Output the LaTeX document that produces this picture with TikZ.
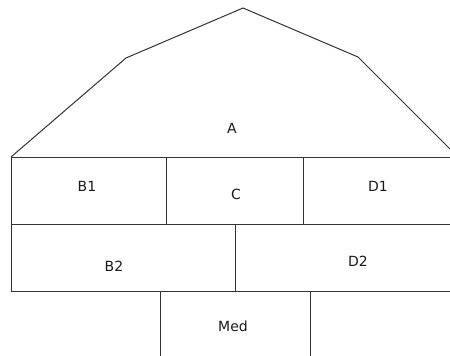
\documentclass[tikz,border=0pt]{standalone}
\usepackage{fontspec}
\setmainfont{DejaVu Sans}
\begin{document}
\begin{tikzpicture}[x=1pt,y=-1pt,
  wall/.style={draw=black!80,line width=1pt},
  lbl/.style={inner sep=0pt,font=\fontsize{14}{16}\selectfont,text=black!90}]
\useasboundingbox (0,0) rectangle (450,356);
\clip (0,0) rectangle (450,356);
% roof
\coordinate (r0) at (11,157);
\coordinate (r1) at (126,58);
\coordinate (r2) at (243,8);
\coordinate (r3) at (358,57);
\coordinate (r4) at (460,159);
\draw[wall] (r0) -- (r1) -- (r2) -- (r3) -- (r4);
% rows
\draw[wall] (11,157) -- (470,157);
\draw[wall] (11,157) -- (11,291);
\draw[wall] (11,224) -- (470,224);
\draw[wall] (11,291) -- (470,291);
\draw[wall] (166,157) -- (166,224);
\draw[wall] (303,157) -- (303,224);
\draw[wall] (235,224) -- (235,291);
\draw[wall] (160,291) -- (160,370);
\draw[wall] (310,291) -- (310,370);
% labels
\node[lbl] (A) at (232,128) {A};
\node[lbl] (B1) at (87,186) {B1};
\node[lbl] (C) at (236,194) {C};
\node[lbl] (D1) at (378,186) {D1};
\node[lbl] (B2) at (114,266) {B2};
\node[lbl] (D2) at (358,261) {D2};
\node[lbl] (Med) at (233,326) {Med};
\end{tikzpicture}
\end{document}
